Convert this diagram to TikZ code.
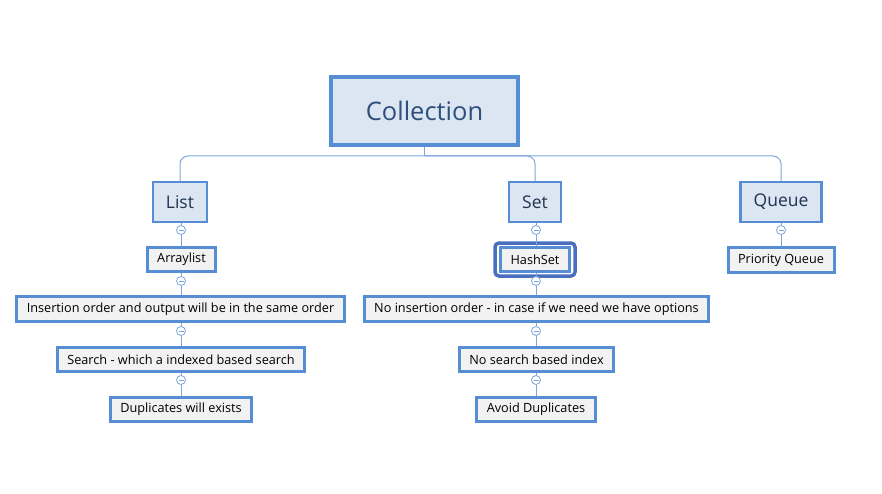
\documentclass[tikz,border=0pt]{standalone}
\usepackage{fontspec}
\setmainfont{Open Sans}
\usetikzlibrary{positioning}

\definecolor{boxline}{HTML}{558ED5}
\definecolor{boxfill}{HTML}{DCE6F2}
\definecolor{leaffill}{HTML}{F2F2F2}
\definecolor{linkline}{HTML}{7FA6DC}
\definecolor{selline}{HTML}{4A6FBF}
\definecolor{roottext}{HTML}{2E4E7E}
\definecolor{topictext}{HTML}{1F3251}

\tikzset{
  rootbox/.style={draw=boxline, fill=boxfill, line width=4pt, minimum width=187pt,
    minimum height=68pt, text=roottext, font=\fontsize{25.5}{30}\selectfont},
  topicbox/.style={draw=boxline, fill=boxfill, line width=2.5pt, minimum height=39.5pt,
    inner xsep=13pt, text=topictext, font=\fontsize{17.5}{21}\selectfont},
  leafbox/.style={draw=boxline, fill=leaffill, line width=3pt, minimum height=24.5pt,
    inner xsep=10pt, text=black, font=\fontsize{12.7}{15}\selectfont},
  foldbtn/.style={circle, draw=linkline, fill=white, line width=0.8pt, minimum size=9pt,
    inner sep=0pt, path picture={\draw[linkline, line width=0.7pt]
      ([xshift=-2.5pt]path picture bounding box.center) --
      ([xshift=2.5pt]path picture bounding box.center);}},
  link/.style={draw=linkline, line width=1pt}
}

\begin{document}
\begin{tikzpicture}[x=1pt, y=-1pt]
  \useasboundingbox (0,0) rectangle (882,494);

  % main topic
  \node [rootbox] (coll) at (424.5,111) {Collection};
  \coordinate (bus) at (424.5,156);

  % first level
  \node [topicbox] (list) at (180,202) {List};
  \node [topicbox] (set) at (535,202) {Set};
  \node [topicbox] (queue) at (781,202) {Queue};

  \draw [link] (coll) -- (bus);
  \draw [link, rounded corners=8pt] (list.north) |- (bus) -| (queue.north);
  \draw [link, rounded corners=8pt] (bus) -| (set.north);

  % List branch
  \node [leafbox] (arrlist) at (181.5,259.5) {Arraylist};
  \node [leafbox] (lorder) at (180.5,309) {Insertion order and output will be in the same order};
  \node [leafbox] (lsearch) at (181,359.5) {Search - which a indexed based search};
  \node [leafbox] (ldup) at (181,409.5) {Duplicates will exists};

  % Set branch
  \node [draw=selline, line width=3.5pt, rounded corners=4pt, minimum width=80pt,
    minimum height=33pt] (hashsel) at (535,259.5) {};
  \node [leafbox] (hashset) at (535,259.5) {HashSet};
  \node [leafbox] (sorder) at (536.5,309) {No insertion order - in case if we need we have options};
  \node [leafbox] (ssearch) at (536.5,359.5) {No search based index};
  \node [leafbox] (sdup) at (536,409.5) {Avoid Duplicates};

  % Queue branch
  \node [leafbox] (prio) at (781,260) {Priority Queue};

  % fold buttons and links
  \foreach \up/\down/\btn/\px/\py in {list/arrlist/b1/181/230, arrlist/lorder/b2/181/281,
      lorder/lsearch/b3/181/331, lsearch/ldup/b4/181/380,
      set/hashset/b5/536/230, hashset/sorder/b6/536/281,
      sorder/ssearch/b7/536/331, ssearch/sdup/b8/536/380,
      queue/prio/b9/781/230} {
    \node [foldbtn] (\btn) at (\px,\py) {};
    \draw [link] (\up.south -| \btn) -- (\btn.north);
    \draw [link] (\btn.south) -- (\down.north -| \btn);
  }

\end{tikzpicture}
\end{document}
